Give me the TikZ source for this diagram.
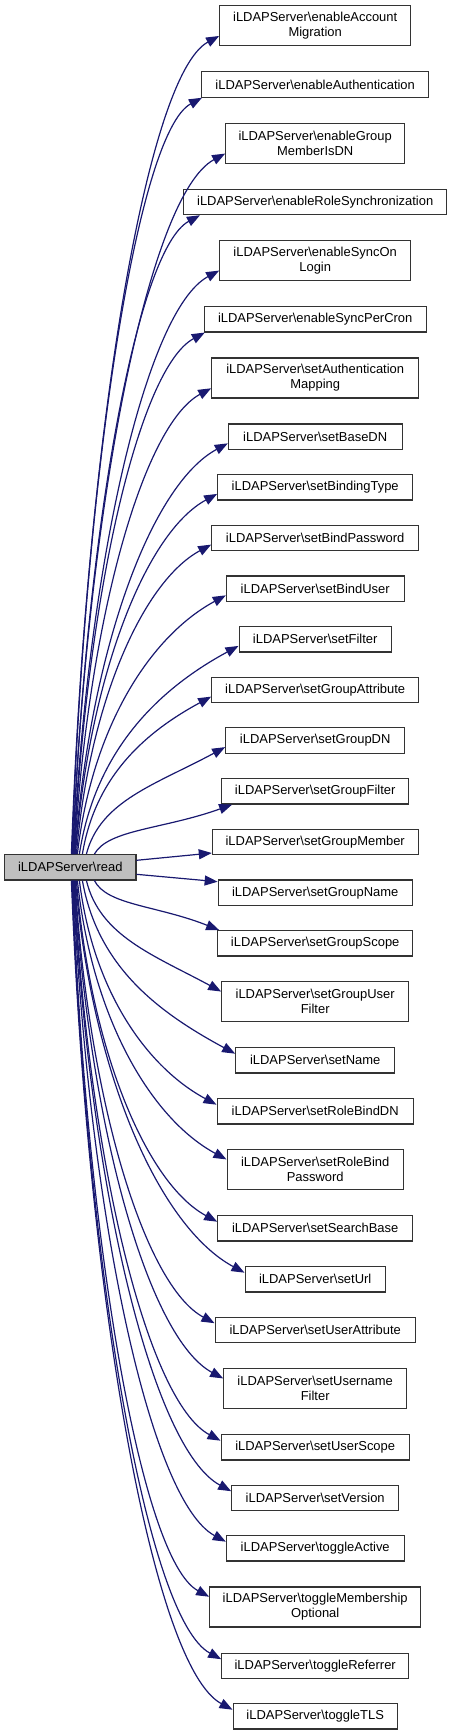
\documentclass[tikz,border=0pt]{standalone}
\usepackage{fontspec}
\setmainfont{Liberation Sans}
\usetikzlibrary{calc,arrows.meta}
\definecolor{edgeblue}{HTML}{191970}
\definecolor{readfill}{HTML}{BFBFBF}
\tikzset{
  box/.style={draw=black!80, line width=1.1bp, fill=white, inner sep=0pt, align=center,
    font=\fontsize{13}{15}\selectfont, minimum height=25.4bp},
  twoline/.style={minimum height=40bp},
  edge/.style={draw=edgeblue, line width=1.2bp, -{Triangle[length=13bp,width=10bp]}, fill=none}
}
% #1 end coordinate name, #2 start x
\newcommand\curveup[2]{%
  \draw[edge] let \p1=($(read.north west)+(#2-4.7,0)$),
    \p2=(#1),
    \n1={\x2-\x1}, \n2={\y2-\y1}, \n3={min(0.27*\n1,0.5*abs(\n2))} in
    (\p1) .. controls ($(\p1)+(0.1*\n1,0.5*\n2)$) and ($(\p2)+(-0.5*\n1,-\n3)$) .. (\p2);}
\newcommand\curvedown[2]{%
  \draw[edge] let \p1=($(read.south west)+(#2-4.7,0)$),
    \p2=(#1),
    \n1={\x2-\x1}, \n2={\y2-\y1}, \n3={min(0.27*\n1,0.5*abs(\n2))} in
    (\p1) .. controls ($(\p1)+(0.1*\n1,0.5*\n2)$) and ($(\p2)+(-0.5*\n1,\n3)$) .. (\p2);}
% #1 target node, #2 start x, #3 offset along bottom/top edge (empty = default on side)
\newcommand\edgeup[3]{%
  \ifx\relax#3\relax
    \coordinate (end-#1) at ($(#1.south west)!0.25!(#1.north west)$);
  \else
    \coordinate (end-#1) at ($(#1.south west)+(#3,0)$);
  \fi
  \curveup{end-#1}{#2}}
\newcommand\edgedown[3]{%
  \ifx\relax#3\relax
    \coordinate (end-#1) at ($(#1.north west)!0.25!(#1.south west)$);
  \else
    \coordinate (end-#1) at ($(#1.north west)+(#3,0)$);
  \fi
  \curvedown{end-#1}{#2}}
\newcommand\bs{\textbackslash}
\begin{document}
\begin{tikzpicture}[x=1bp,y=-1bp]
\useasboundingbox (0,0) rectangle (452,1735);
\node[box, fill=readfill, minimum width=131.3bp] (read) at (70.3,867.3) {iLDAPServer\bs read};
% upper targets
\node[box, twoline, minimum width=191bp] (eAM) at (315.2,25.7) {iLDAPServer\bs enableAccount\\Migration};
\node[box, minimum width=227.4bp] (eAuth) at (315.2,84.5) {iLDAPServer\bs enableAuthentication};
\node[box, twoline, minimum width=179bp] (eGM) at (315.2,143.3) {iLDAPServer\bs enableGroup\\MemberIsDN};
\node[box, minimum width=263.4bp] (eRS) at (315.2,202) {iLDAPServer\bs enableRoleSynchronization};
\node[box, twoline, minimum width=191bp] (eSOL) at (315.2,260.3) {iLDAPServer\bs enableSyncOn\\Login};
\node[box, minimum width=221.7bp] (eSPC) at (315.2,319.3) {iLDAPServer\bs enableSyncPerCron};
\node[box, twoline, minimum width=207bp] (sAM) at (315.2,378) {iLDAPServer\bs setAuthentication\\Mapping};
\node[box, minimum width=173.7bp] (sBDN) at (315.2,436.7) {iLDAPServer\bs setBaseDN};
\node[box, minimum width=195bp] (sBT) at (315.2,487.3) {iLDAPServer\bs setBindingType};
\node[box, minimum width=207bp] (sBP) at (315.2,538) {iLDAPServer\bs setBindPassword};
\node[box, minimum width=177.7bp] (sBU) at (315.2,588.7) {iLDAPServer\bs setBindUser};
\node[box, minimum width=152.3bp] (sF) at (315.2,639.3) {iLDAPServer\bs setFilter};
\node[box, minimum width=207bp] (sGA) at (315.2,690) {iLDAPServer\bs setGroupAttribute};
\node[box, minimum width=179bp] (sGDN) at (315.2,740.5) {iLDAPServer\bs setGroupDN};
\node[box, minimum width=187bp] (sGF) at (315.2,791.3) {iLDAPServer\bs setGroupFilter};
\node[box, minimum width=205.7bp] (sGM) at (315.2,842) {iLDAPServer\bs setGroupMember};
% lower targets
\node[box, minimum width=194bp] (sGN) at (315.2,892.7) {iLDAPServer\bs setGroupName};
\node[box, minimum width=195bp] (sGS) at (315.2,943.3) {iLDAPServer\bs setGroupScope};
\node[box, twoline, minimum width=187bp] (sGUF) at (315.2,1001.8) {iLDAPServer\bs setGroupUser\\Filter};
\node[box, minimum width=159bp] (sN) at (315.2,1060.3) {iLDAPServer\bs setName};
\node[box, minimum width=196.3bp] (sRBDN) at (315.2,1111.3) {iLDAPServer\bs setRoleBindDN};
\node[box, twoline, minimum width=176.3bp] (sRBP) at (315.2,1169.7) {iLDAPServer\bs setRoleBind\\Password};
\node[box, minimum width=195bp] (sSB) at (315.2,1228.3) {iLDAPServer\bs setSearchBase};
\node[box, minimum width=140.3bp] (sUrl) at (315.2,1279.3) {iLDAPServer\bs setUrl};
\node[box, minimum width=200.3bp] (sUA) at (315.2,1329.8) {iLDAPServer\bs setUserAttribute};
\node[box, twoline, minimum width=183bp] (sUF) at (315.2,1388.7) {iLDAPServer\bs setUsername\\Filter};
\node[box, minimum width=188.3bp] (sUS) at (315.2,1447.3) {iLDAPServer\bs setUserScope};
\node[box, minimum width=167bp] (sV) at (315.2,1497.8) {iLDAPServer\bs setVersion};
\node[box, minimum width=177.7bp] (tA) at (315.2,1548.3) {iLDAPServer\bs toggleActive};
\node[box, twoline, minimum width=211bp] (tMO) at (315.2,1607) {iLDAPServer\bs toggleMembership\\Optional};
\node[box, minimum width=187bp] (tR) at (315.2,1665.8) {iLDAPServer\bs toggleReferrer};
\node[box, minimum width=164.3bp] (tTLS) at (315.2,1716.3) {iLDAPServer\bs toggleTLS};
% edges up
\edgeup{eAM}{72}{}
\edgeup{eAuth}{72.5}{1}
\edgeup{eGM}{73}{}
\edgeup{eRS}{73.5}{17}
\edgeup{eSOL}{74}{}
\edgeup{eSPC}{74.5}{1}
\edgeup{sAM}{75}{}
\edgeup{sBDN}{75.5}{}
\edgeup{sBT}{76}{}
\edgeup{sBP}{77}{}
\edgeup{sBU}{78}{}
\edgeup{sF}{80}{}
\edgeup{sGA}{83}{}
\edgeup{sGDN}{87}{}
\edgeup{sGF}{95}{11}
\draw[edge] ($(read.east)+(0,-7)$) -- ($(sGM.west)+(0,11)$);
\draw[edge] ($(read.east)+(0,7)$) -- ($(sGN.west)+(0,-11)$);
% edges down
\edgedown{sGS}{95}{2}
\edgedown{sGUF}{87}{}
\edgedown{sN}{83}{}
\edgedown{sRBDN}{80}{}
\edgedown{sRBP}{78}{}
\edgedown{sSB}{77}{}
\edgedown{sUrl}{76}{}
\edgedown{sUA}{75.5}{}
\edgedown{sUF}{75}{}
\edgedown{sUS}{74.5}{}
\edgedown{sV}{74}{}
\edgedown{tA}{73.5}{}
\edgedown{tMO}{73}{}
\edgedown{tR}{72.5}{}
\edgedown{tTLS}{72}{}
\end{tikzpicture}
\end{document}
